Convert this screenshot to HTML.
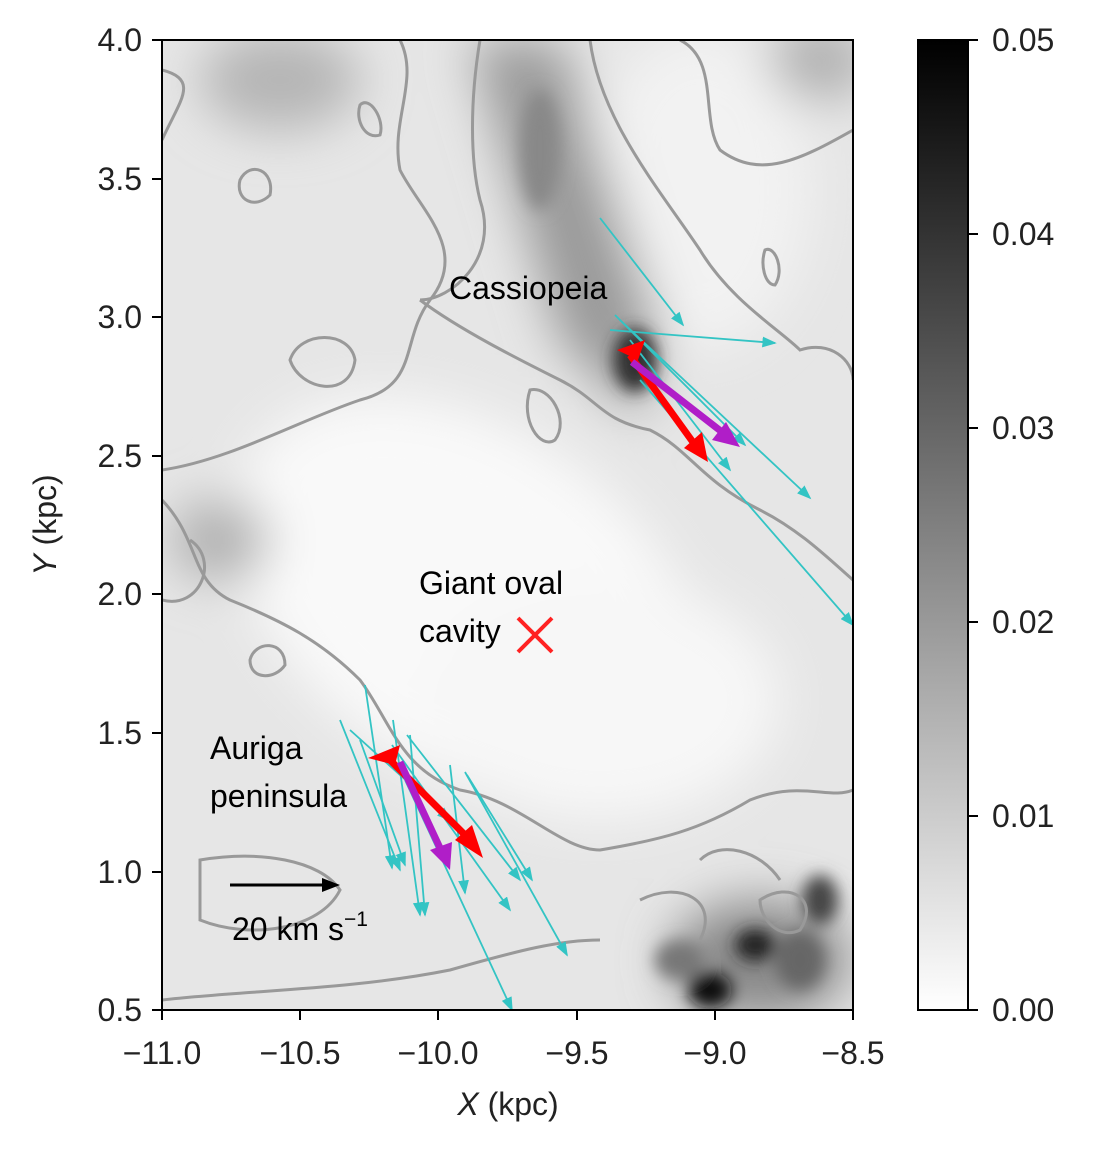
<!DOCTYPE html>
<html><head><style>
body{margin:0;background:#fff;}
svg text{font-family:"Liberation Sans",sans-serif;}
</style></head><body>
<svg width="1097" height="1149" viewBox="0 0 1097 1149" xmlns="http://www.w3.org/2000/svg">
<defs>
<filter id="b1" x="-50%" y="-50%" width="200%" height="200%"><feGaussianBlur stdDeviation="25"/></filter>
<filter id="b2" x="-50%" y="-50%" width="200%" height="200%"><feGaussianBlur stdDeviation="8"/></filter>
<clipPath id="cp"><rect x="162" y="40" width="691" height="970"/></clipPath>
<linearGradient id="cb" x1="0" y1="1" x2="0" y2="0"><stop offset="0" stop-color="#fff"/><stop offset="1" stop-color="#000"/></linearGradient>
<marker id="ca" markerWidth="8" markerHeight="6" refX="7" refY="3" orient="auto"><path d="M0,0L8,3L0,6z" fill="#33c4c4"/></marker>
</defs>
<g clip-path="url(#cp)">
<rect x="162" y="40" width="691" height="970" fill="#e6e6e6"/>
<g filter="url(#b1)">
<ellipse cx="470" cy="600" rx="260" ry="170" fill="#f9f9f9" transform="rotate(35 470 600)"/>
<ellipse cx="600" cy="700" rx="180" ry="120" fill="#f7f7f7"/>
<ellipse cx="700" cy="190" rx="110" ry="160" fill="#f2f2f2"/>
<path d="M470,40 L560,40 L660,330 L640,420 L560,340 Z" fill="#9a9a9a"/>
<ellipse cx="280" cy="80" rx="80" ry="50" fill="#b5b5b5"/>
<ellipse cx="760" cy="960" rx="90" ry="60" fill="#888"/>
<ellipse cx="220" cy="540" rx="50" ry="40" fill="#b0b0b0"/>
<ellipse cx="820" cy="60" rx="50" ry="40" fill="#b0b0b0"/>
</g>
<g filter="url(#b2)">
<ellipse cx="635" cy="360" rx="22" ry="32" fill="#333"/>
<ellipse cx="710" cy="990" rx="22" ry="18" fill="#111"/>
<ellipse cx="755" cy="945" rx="20" ry="16" fill="#222"/>
<ellipse cx="820" cy="900" rx="18" ry="25" fill="#444"/>
<ellipse cx="680" cy="960" rx="25" ry="20" fill="#777"/>
<ellipse cx="800" cy="960" rx="25" ry="30" fill="#666"/>
<ellipse cx="540" cy="150" rx="20" ry="60" fill="#888"/>
</g>
<g fill="none" stroke="#999" stroke-width="3">
<path d="M162,470 C230,460 300,420 360,400 C420,385 400,340 430,300 C470,250 420,210 400,170 C390,120 420,80 400,40"/>
<path d="M480,40 C470,100 470,160 480,200 C500,260 450,300 420,300"/>
<path d="M420,300 C460,330 520,360 560,380 C600,400 600,420 650,430 C690,450 700,480 760,510 C800,530 830,560 853,580"/>
<path d="M590,40 C600,120 660,190 700,250 C730,300 780,330 800,350 C830,340 853,360 853,380"/>
<path d="M162,500 C200,540 190,580 230,600 C280,620 320,640 360,680 C390,720 400,770 460,790 C520,800 560,850 600,850 C660,840 700,830 750,800 C800,780 830,800 853,790"/>
<path d="M680,40 C720,60 700,120 720,150 C760,180 800,160 853,130"/>
<path d="M162,140 C180,100 200,80 162,70"/>
<path d="M162,1000 C250,990 350,990 450,970 C520,950 560,940 600,940"/>
<path d="M530,390 C520,420 540,450 555,440 C570,420 550,385 530,390 Z"/>
<path d="M290,360 C300,330 350,330 355,360 C350,400 300,390 290,360 Z"/>
<path d="M240,180 C250,160 275,170 270,195 C255,210 235,200 240,180 Z"/>
<path d="M250,660 C255,640 285,640 285,665 C275,680 250,680 250,660 Z"/>
<path d="M360,105 C370,95 385,120 380,135 C365,140 355,120 360,105 Z"/>
<path d="M765,250 C775,245 785,270 775,285 C765,285 760,265 765,250 Z"/>
<path d="M700,860 C720,840 760,850 780,880"/>
<path d="M200,860 C260,850 320,860 340,890 C320,930 250,940 200,920 Z"/>
<path d="M162,600 C200,610 220,560 190,540"/>
<path d="M640,900 C680,880 720,900 700,940"/>
<path d="M760,900 C790,880 820,900 800,930 C780,940 760,920 760,900 Z"/>
</g>
<g stroke="#33c4c4" stroke-width="1.8" marker-end="url(#ca)">
<line x1="365" y1="685" x2="392" y2="868"/>
<line x1="340" y1="720" x2="400" y2="870"/>
<line x1="393" y1="720" x2="420" y2="915"/>
<line x1="350" y1="730" x2="450" y2="820"/>
<line x1="392" y1="745" x2="510" y2="910"/>
<line x1="410" y1="735" x2="425" y2="915"/>
<line x1="407" y1="735" x2="520" y2="880"/>
<line x1="450" y1="765" x2="465" y2="893"/>
<line x1="467" y1="775" x2="532" y2="880"/>
<line x1="465" y1="772" x2="567" y2="955"/>
<line x1="405" y1="780" x2="512" y2="1010"/>
<line x1="360" y1="740" x2="405" y2="865"/>
<line x1="600" y1="218" x2="683" y2="325"/>
<line x1="610" y1="330" x2="775" y2="343"/>
<line x1="615" y1="315" x2="745" y2="445"/>
<line x1="620" y1="320" x2="810" y2="498"/>
<line x1="640" y1="380" x2="853" y2="625"/>
<line x1="630" y1="340" x2="730" y2="470"/>
</g>
<g>
<line x1="390" y1="760" x2="470" y2="840" stroke="#f00" stroke-width="7"/>
<path d="M483,858 L455,840 L472,825 Z" fill="#f00"/>
<path d="M368,758 L400,745 L395,765 Z" fill="#f00"/>
<line x1="400" y1="762" x2="440" y2="848" stroke="#b01ec8" stroke-width="7"/>
<path d="M450,870 L430,850 L452,842 Z" fill="#b01ec8"/>
<line x1="630" y1="355" x2="695" y2="445" stroke="#f00" stroke-width="7"/>
<path d="M708,462 L684,448 L702,432 Z" fill="#f00"/>
<path d="M617,350 L645,340 L638,360 Z" fill="#f00"/>
<line x1="632" y1="362" x2="722" y2="432" stroke="#b01ec8" stroke-width="7"/>
<path d="M740,447 L712,440 L726,422 Z" fill="#b01ec8"/>
<path d="M518,618 L552,652 M552,618 L518,652" stroke="#f22" stroke-width="4"/>
<line x1="230" y1="885" x2="325" y2="885" stroke="#000" stroke-width="3"/>
<path d="M340,885 L322,878 L322,892 Z" fill="#000"/>
</g>
</g>
<rect x="162" y="40" width="691" height="970" fill="none" stroke="#000" stroke-width="2"/>
<g font-size="32" fill="#000">
<text x="449" y="299">Cassiopeia</text>
<text x="419" y="594">Giant oval</text>
<text x="419" y="642">cavity</text>
<text x="210" y="759">Auriga</text>
<text x="210" y="807">peninsula</text>
<text x="232" y="940">20 km s<tspan font-size="21" dy="-14">−1</tspan></text>
</g>
<g stroke="#000" stroke-width="2">
<line x1="152" y1="40" x2="162" y2="40"/><line x1="152" y1="179" x2="162" y2="179"/><line x1="152" y1="317" x2="162" y2="317"/><line x1="152" y1="456" x2="162" y2="456"/><line x1="152" y1="594" x2="162" y2="594"/><line x1="152" y1="733" x2="162" y2="733"/><line x1="152" y1="872" x2="162" y2="872"/><line x1="152" y1="1010" x2="162" y2="1010"/>
<line x1="162" y1="1010" x2="162" y2="1020"/><line x1="300" y1="1010" x2="300" y2="1020"/><line x1="438" y1="1010" x2="438" y2="1020"/><line x1="577" y1="1010" x2="577" y2="1020"/><line x1="715" y1="1010" x2="715" y2="1020"/><line x1="853" y1="1010" x2="853" y2="1020"/>
</g>
<g font-size="32" fill="#222" text-anchor="end">
<text x="142" y="51">4.0</text><text x="142" y="190">3.5</text><text x="142" y="328">3.0</text><text x="142" y="467">2.5</text><text x="142" y="605">2.0</text><text x="142" y="744">1.5</text><text x="142" y="883">1.0</text><text x="142" y="1021">0.5</text>
</g>
<g font-size="32" fill="#222" text-anchor="middle">
<text x="162" y="1064">−11.0</text><text x="300" y="1064">−10.5</text><text x="438" y="1064">−10.0</text><text x="577" y="1064">−9.5</text><text x="715" y="1064">−9.0</text><text x="853" y="1064">−8.5</text>
<text x="508" y="1115"><tspan font-style="italic">X</tspan> (kpc)</text>
<text transform="translate(56,525) rotate(-90)"><tspan font-style="italic">Y</tspan> (kpc)</text>
</g>
<rect x="918" y="40" width="50" height="970" fill="url(#cb)" stroke="#000" stroke-width="2"/>
<g stroke="#000" stroke-width="2">
<line x1="968" y1="40" x2="978" y2="40"/><line x1="968" y1="234" x2="978" y2="234"/><line x1="968" y1="428" x2="978" y2="428"/><line x1="968" y1="622" x2="978" y2="622"/><line x1="968" y1="816" x2="978" y2="816"/><line x1="968" y1="1010" x2="978" y2="1010"/>
</g>
<g font-size="32" fill="#222">
<text x="992" y="51">0.05</text><text x="992" y="245">0.04</text><text x="992" y="439">0.03</text><text x="992" y="633">0.02</text><text x="992" y="827">0.01</text><text x="992" y="1021">0.00</text>
</g>
</svg>
</body></html>
